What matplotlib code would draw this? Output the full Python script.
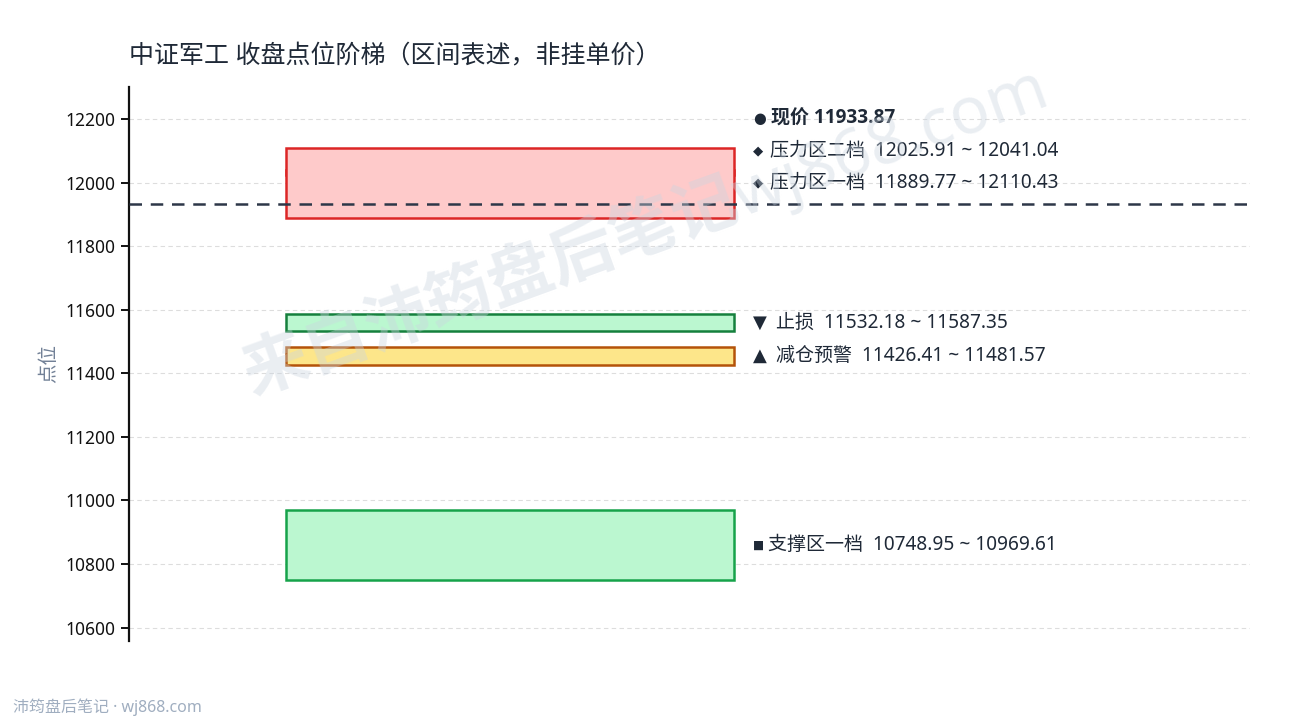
import matplotlib
matplotlib.use("Agg")
import matplotlib.pyplot as plt
from matplotlib.patches import Rectangle
from matplotlib.ticker import MultipleLocator

plt.rcParams['font.family'] = ['Noto Sans', 'Noto Sans CJK SC', 'DejaVu Sans']

# ---- data ----
title = "中证军工 收盘点位阶梯（区间表述，非挂单价）"
current_price = 11933.87
zone_names = ["压力区二档", "压力区一档", "止损", "减仓预警", "支撑区一档"]
zone_low = [12025.91, 11889.77, 11532.18, 11426.41, 10748.95]
zone_high = [12041.04, 12110.43, 11587.35, 11481.57, 10969.61]
zone_marker = ["◆", "◆", "▼", "▲", "■"]
zone_face = ["#fecaca", "#fecaca", "#bbf7d0", "#fde68a", "#bbf7d0"]
zone_edge = ["#dc2626", "#dc2626", "#15803d", "#b45309", "#16a34a"]
y_label = "点位"
footer = "沛筠盘后笔记 · wj868.com"
watermark = "来自沛筠盘后笔记wj868.com"

# marker glyph styling (size in pt, text offset in pixels)
marker_style = {"●": (10.5, 18), "◆": (9.5, 17), "▼": (13, 23), "▲": (13, 23), "■": (8.5, 15)}

fig = plt.figure(figsize=(12.9, 7.2), dpi=100)
ax = fig.add_axes([0.1, 0.110, 0.869, 0.769])

lo = min(zone_low)
hi = max(zone_high)
pad = 0.14 * (hi - lo)
ax.set_ylim(lo - pad, hi + pad)
ax.set_xlim(0, 1)

bx0, bx1 = 0.14, 0.54
for l, h, fc, ec in zip(zone_low, zone_high, zone_face, zone_edge):
    ax.add_patch(Rectangle((bx0, l), bx1 - bx0, h - l, facecolor=fc,
                           edgecolor=ec, linewidth=1.8, zorder=3))

ax.axhline(current_price, color="#2d3748", lw=1.8, ls=(0, (5, 3.5)), zorder=4)

# labels with simple upward collision avoidance
items = []
for n, l, h, m in zip(zone_names, zone_low, zone_high, zone_marker):
    items.append(((l + h) / 2, m, f"{n}  {l:.2f} ~ {h:.2f}", False))
items.sort(key=lambda t: t[0])
items.append((current_price, "●", f"现价 {current_price:.2f}", True))
gap = 0.058 * (hi - lo + 2 * pad)
prev = None
lx = 0.5565
for anchor, m, txt, bold in items:
    y = anchor if prev is None else max(anchor, prev + gap)
    prev = y
    msize, off = marker_style[m]
    ax.text(lx, y, m, va="center", ha="left", fontsize=msize,
            family="DejaVu Sans", color="#1f2937", zorder=6)
    fam = ['Open Sans', 'Noto Sans CJK SC'] if bold else ['Noto Sans', 'Noto Sans CJK SC']
    ax.annotate(txt, (lx, y), xytext=(off, 0), textcoords="offset pixels",
                va="center", ha="left", fontsize=13.7, color="#1f2937",
                family=fam, fontweight="bold" if bold else "normal", zorder=6,
                annotation_clip=False)

ax.yaxis.set_major_locator(MultipleLocator(200))
ax.grid(axis="y", color="#dddddd", ls=(0, (4, 3)), lw=0.8, zorder=0)
ax.set_axisbelow(True)
for s in ["top", "right", "bottom"]:
    ax.spines[s].set_visible(False)
ax.spines["left"].set_linewidth(1.6)
ax.spines["left"].set_color("#111111")
ax.set_xticks([])
ax.tick_params(axis="y", labelsize=12.5, length=6, width=1.4, colors="#111111")
ax.set_ylabel(y_label, fontsize=14, color="#718096", labelpad=5)

fig.text(0.1, 1 - 57 / 720, title, fontsize=18, color="#1f2937",
         ha="left", va="center")
fig.text(13 / 1290, 1 - 707 / 720, footer, fontsize=11.5, color="#a0aec0",
         ha="left", va="center")
fig.text(0.5, 0.68, watermark, fontsize=47, fontweight="bold", color="#cbd5e0",
         alpha=0.4, rotation=20, ha="center", va="center", zorder=0)

fig.savefig("out.png", dpi=100, facecolor="white")
